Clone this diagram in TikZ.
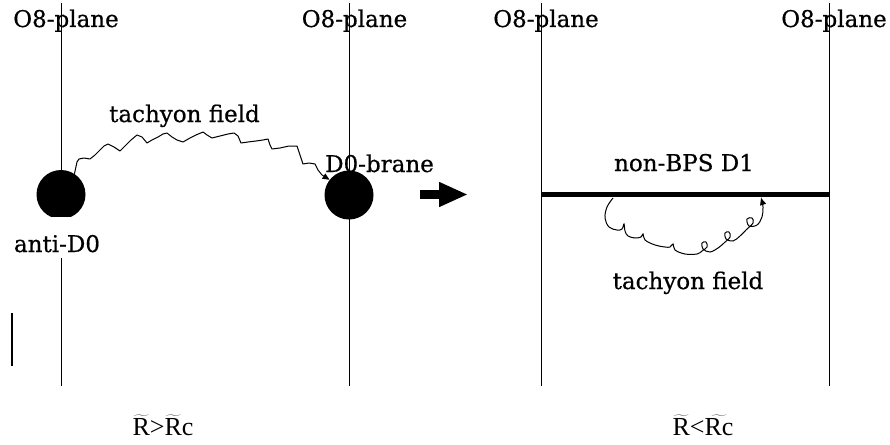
\documentclass[tikz,border=0pt]{standalone}
\usepackage{fontspec}
\setmainfont{DejaVu Serif}[FakeBold=0.6]
\newfontfamily\timesfont{Liberation Serif}
\usetikzlibrary{arrows.meta}

\begin{document}
\begin{tikzpicture}[x=1pt,y=-1pt,font=\fontsize{23}{27}\selectfont,
  lbl/.style={anchor=base,inner sep=0pt},
  brane/.style={circle,fill,minimum size=49pt,inner sep=0pt},
  tach/.style={line width=1pt,-{Triangle[length=7pt,width=6pt]}}]
\useasboundingbox (0,0) rectangle (890,444);

% O8-planes, the lines go over the labels
\foreach \x/\n in {66/oa,354.5/ob,546/oc,834/od}
\node[lbl] (\n) at (\x,27) {O8-plane};
\foreach \x in {61,349,541,829}
\draw[line width=1pt] (\x,3) -- (\x,386);

\draw[line width=2pt] (12,313) -- (12,366);

% left: D0 and anti-D0
\node[brane] (adbar) at (61,194.5) {};
\node[brane] (dzero) at (349,195) {};
\node[lbl,fill=white,text height=35pt,text depth=6pt] (antid) at (57,252) {anti-D0};
\node[lbl] (dlab) at (379.5,172) {D0-brane};
\node[lbl] (tla) at (184.5,122) {tachyon field};
\draw[tach,line join=round] (adbar.57) -- (77,162) -- (79,159) -- (84,158) -- (90,159)
  -- (95,155) -- (100,150) -- (104,146) -- (108,144) -- (114,147) -- (120,151)
  -- (126,145) -- (131,140) -- (137,135) -- (142,137) -- (147,143) -- (152,140)
  -- (158,137) -- (163,134) -- (167,133) -- (172,137) -- (177,140) -- (183,142)
  -- (190,138) -- (196,135) -- (203,132) -- (207,135) -- (212,138) -- (220,136)
  -- (228,134) -- (234,133) -- (238,136) -- (241,143) -- (248,142) -- (256,141)
  -- (263,140) -- (268,139) -- (270,145) -- (272,149) -- (280,148) -- (289,146)
  -- (297,146) -- (299,152) -- (301,158) -- (303,164) -- (309,163) -- (315,164)
  -- (318,170) -- (322,175) -- (dzero.142);

% arrow between the two pictures
\coordinate (afrom) at (420,194.5);
\coordinate (ato) at (468,194.5);
\draw[line width=9pt,-{Triangle[length=29pt,width=23pt]}] (afrom) -- (ato);

% right: non-BPS D1
\coordinate (dl) at (541,194);
\coordinate (dr) at (829,194);
\draw[line width=5pt] (dl) -- (dr);
\node[lbl] (nbps) at (684,171) {non-BPS D1};
\node[lbl] (tlb) at (688,289) {tachyon field};
\coordinate (lpa) at (613,198);
\coordinate (lpb) at (761,198);
\draw[tach] plot[smooth,tension=0.6] coordinates {(lpa) (607,207) (605,218)
  (609,227) (617,230) (622,229) (624,224) (625,231) (628,236) (635,238)
  (641,237) (643,234) (645,240) (655,245) (665,247) (670,247) (673,244)
  (675,250) (685,254) (697,254) (702,251) (707,247) (706,242) (702,243)
  (703,249) (710,252) (718,248) (724,243) (730,237) (729,232) (725,233)
  (726,239) (733,241) (740,236) (746,230) (753,223) (752,218) (747,219)
  (749,226) (757,225) (762,217) (763,207) (lpb)};

% radii
\node[lbl] (rgt) at (163,435) {\timesfont\fontsize{26}{30}\selectfont
  $\widetilde{\hbox{R}}$>$\widetilde{\hbox{R}}$c};
\node[lbl] (rlt) at (703,435) {\timesfont\fontsize{26}{30}\selectfont
  $\widetilde{\hbox{R}}$<$\widetilde{\hbox{Rc}}$};
\end{tikzpicture}
\end{document}
